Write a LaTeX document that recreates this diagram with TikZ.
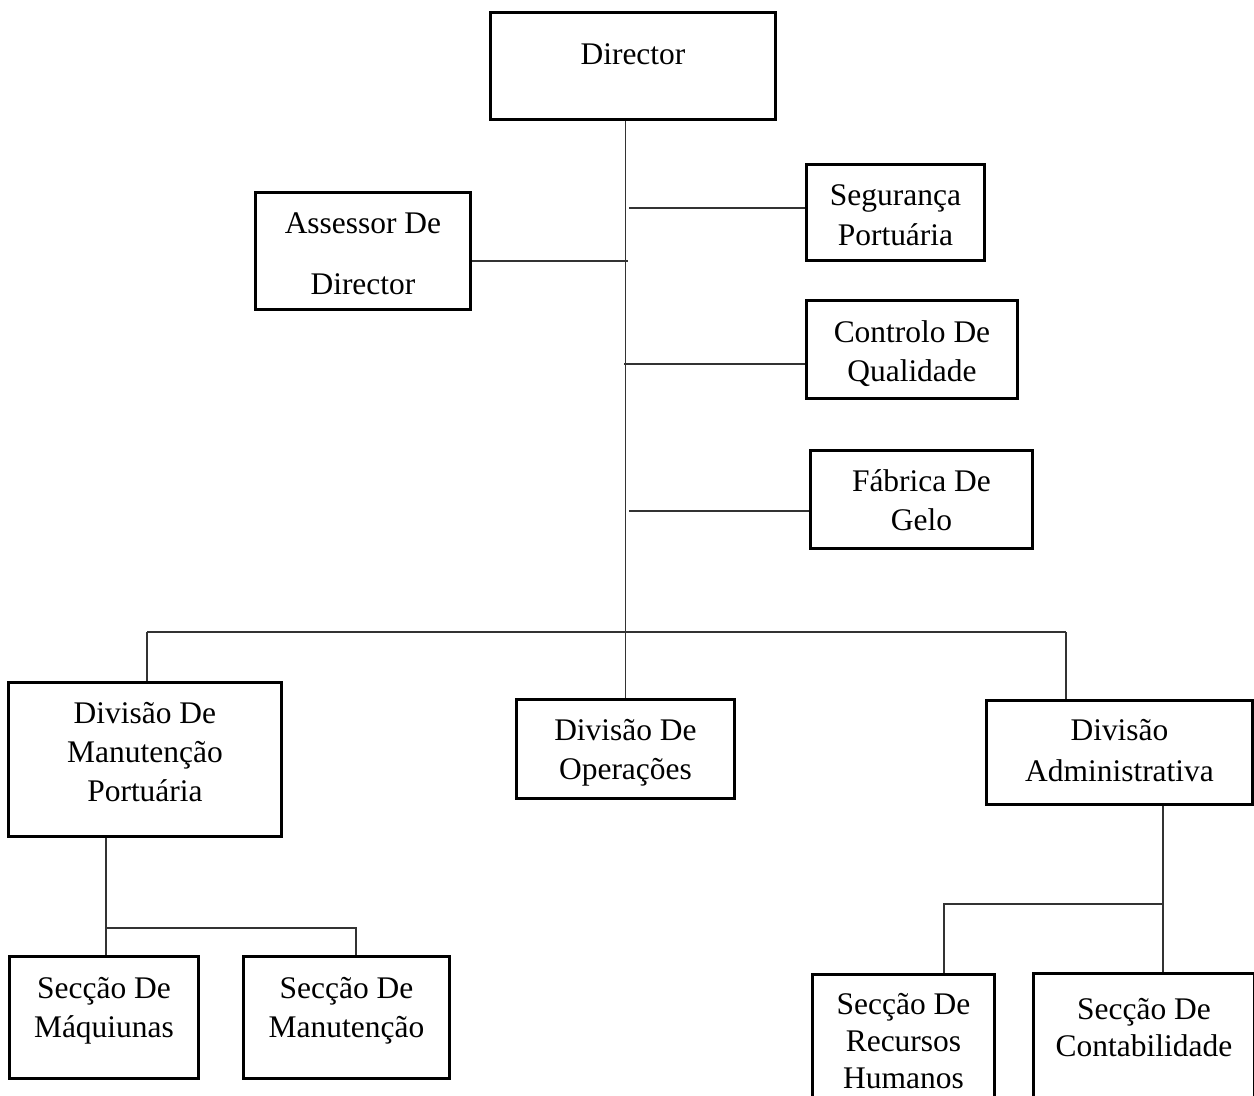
\documentclass[tikz,border=0pt]{standalone}
\usepackage{fontspec}
\setmainfont{Liberation Serif}
\newdimen\pxu
\pxu=0.375pt
% box text: width, height, first baseline, line skip, lines
\newcommand{\boxtext}[5]{\parbox[c][#2\pxu][t]{#1\pxu}{\centering\baselineskip=#4\pxu\rule{0pt}{#3\pxu}#5\par}}
\tikzset{
  orgbox/.style={draw,line width=1.1pt,inner sep=0pt,anchor=north west,font=\fontsize{11.8}{14}\selectfont},
  link/.style={draw=black!80,line width=0.6pt}
}

\begin{document}
\begin{tikzpicture}[x=0.375pt,y=-0.375pt]
        \useasboundingbox (0,0) rectangle (1254,1095);
        \clip (0,0) rectangle (1254,1095);
        % top
        \node[orgbox] (dir) at (489,11) {\boxtext{285}{107}{52}{39}{Director}};
        \node[orgbox] (ass) at (254,191) {\boxtext{215}{117}{41}{61}{Assessor De\\Director}};
        \node[orgbox] (seg) at (805,163) {\boxtext{178}{96}{41}{40.5}{Segurança\\Portuária}};
        \node[orgbox] (ctrl) at (805,299) {\boxtext{211}{98}{42}{39}{Controlo De\\Qualidade}};
        \node[orgbox] (fab) at (809,449) {\boxtext{222}{98}{41}{38.6}{Fábrica De\\Gelo}};
        % divisions
        \node[orgbox] (dmp) at (7,681) {\boxtext{273}{154}{41}{39.2}{Divisão De\\Manutenção\\Portuária}};
        \node[orgbox] (ops) at (515,698) {\boxtext{218}{99}{41}{39}{Divisão De\\Operações}};
        \node[orgbox] (adm) at (985,699) {\boxtext{266}{104}{40}{40.7}{Divisão\\Administrativa}};
        % sections
        \node[orgbox] (smaq) at (8,955) {\boxtext{189}{122}{42}{39.4}{Secção De\\Máquiunas}};
        \node[orgbox] (sman) at (242,955) {\boxtext{206}{122}{42}{39.4}{Secção De\\Manutenção}};
        \node[orgbox] (srh) at (811,973) {\boxtext{182}{140}{40}{37}{Secção De\\Recursos\\Humanos}};
        \node[orgbox] (scont) at (1032,972) {\boxtext{221}{140}{46}{37}{Secção De\\Contabilidade}};

        % junctions
        \coordinate (jass) at (628,261);
        \coordinate (busl) at (147,632);
        \coordinate (busr) at (1066,632);
        \coordinate (jmaq) at (106,928);
        \coordinate (jman) at (356,928);
        \coordinate (jadm) at (1163,904);
        \coordinate (jrh) at (944,904);

        \draw[link] (dir.south -| ops.north) -- (ops.north);
        \draw[link] (ass.east |- jass) -- (jass);
        \foreach \n/\x/\y in {seg/629/208,ctrl/624/364,fab/629/511}{
          \draw[link] (\x,\y) -- (\n.west |- 0,\y);
        }
        \draw[link] (busl) -- (busr);
        \draw[link] (busl) -- (busl |- dmp.north);
        \draw[link] (busr) -- (busr |- adm.north);
        \draw[link] (dmp.south -| jmaq) -- (jmaq |- smaq.north);
        \draw[link] (jmaq) -- (jman) -- (jman |- sman.north);
        \draw[link] (adm.south -| jadm) -- (jadm |- scont.north);
        \draw[link] (jadm) -- (jrh) -- (jrh |- srh.north);
      \end{tikzpicture}
\end{document}
